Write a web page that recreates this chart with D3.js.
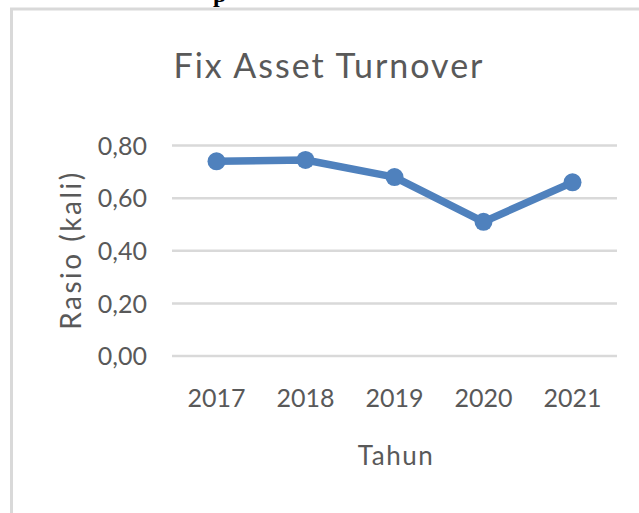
<!DOCTYPE html>
<html>
<head>
<meta charset="utf-8">
<script src="https://cdn.jsdelivr.net/npm/d3@7"></script>
<style>
  body { margin: 0; background: #fff; }
  text { font-family: Lato, "Open Sans", sans-serif; fill: #595959; }
</style>
</head>
<body>
<script>
const years = ['2017', '2018', '2019', '2020', '2021'];
const ratios = [0.74, 0.745, 0.68, 0.51, 0.66];
const yTicks = [0, 0.2, 0.4, 0.6, 0.8];

const width = 639;
const height = 513;

const svg = d3.select('body').append('svg')
  .attr('width', width)
  .attr('height', height);

// frame of the chart box (right and bottom fall outside the picture)
svg.append('rect')
  .attr('x', 11.5)
  .attr('y', 9)
  .attr('width', 700)
  .attr('height', 600)
  .attr('fill', 'none')
  .attr('stroke', '#d9d9d9')
  .attr('stroke-width', 3);

// bit of the caption above the chart, cut by the page edge
svg.append('text')
  .attr('x', 213)
  .attr('y', 2)
  .style('font-family', '"Liberation Serif", serif')
  .style('font-weight', 'bold')
  .style('font-size', '24px')
  .style('fill', '#000')
  .text('p');

const x = d3.scaleBand().domain(years).range([172, 617]);
const y = d3.scaleLinear().domain([0, 0.8]).range([356, 145.5]);

const fmt = d => d3.format('.2f')(d).replace('.', ',');

// gridlines
svg.append('g')
  .selectAll('line')
  .data(yTicks)
  .enter().append('line')
    .attr('x1', 172)
    .attr('x2', 617)
    .attr('y1', d => y(d))
    .attr('y2', d => y(d))
    .attr('stroke', '#d9d9d9')
    .attr('stroke-width', 2.5);

const yAxis = svg.append('g')
  .attr('transform', 'translate(147,0)')
  .call(d3.axisLeft(y).tickValues(yTicks).tickFormat(fmt).tickSize(0).tickPadding(0));
yAxis.select('.domain').remove();
yAxis.selectAll('text')
  .style('font-size', '25px')
  .attr('dy', '0.35em');

const xAxis = svg.append('g')
  .attr('transform', 'translate(0,389)')
  .call(d3.axisBottom(x).tickSize(0).tickPadding(0));
xAxis.select('.domain').remove();
xAxis.selectAll('text')
  .style('font-size', '25px')
  .attr('dy', '0.71em');

const line = d3.line()
  .x((d, i) => x(years[i]) + x.bandwidth() / 2)
  .y(d => y(d));

svg.append('path')
  .datum(ratios)
  .attr('d', line)
  .attr('fill', 'none')
  .attr('stroke', '#4f81bd')
  .attr('stroke-width', 7.5)
  .attr('stroke-linejoin', 'round');

svg.append('g')
  .selectAll('circle')
  .data(ratios)
  .enter().append('circle')
    .attr('cx', (d, i) => x(years[i]) + x.bandwidth() / 2)
    .attr('cy', d => y(d))
    .attr('r', 9)
    .attr('fill', '#4f81bd');

svg.append('text')
  .attr('x', 329)
  .attr('y', 78)
  .attr('text-anchor', 'middle')
  .style('font-size', '34px')
  .style('letter-spacing', '2px')
  .text('Fix Asset Turnover');

svg.append('text')
  .attr('x', 396)
  .attr('y', 465)
  .attr('text-anchor', 'middle')
  .style('font-size', '26px')
  .style('letter-spacing', '1.5px')
  .text('Tahun');

svg.append('text')
  .attr('transform', 'translate(81,250) rotate(-90)')
  .attr('text-anchor', 'middle')
  .style('font-size', '28px')
  .style('letter-spacing', '2.5px')
  .text('Rasio (kali)');
</script>
</body>
</html>
